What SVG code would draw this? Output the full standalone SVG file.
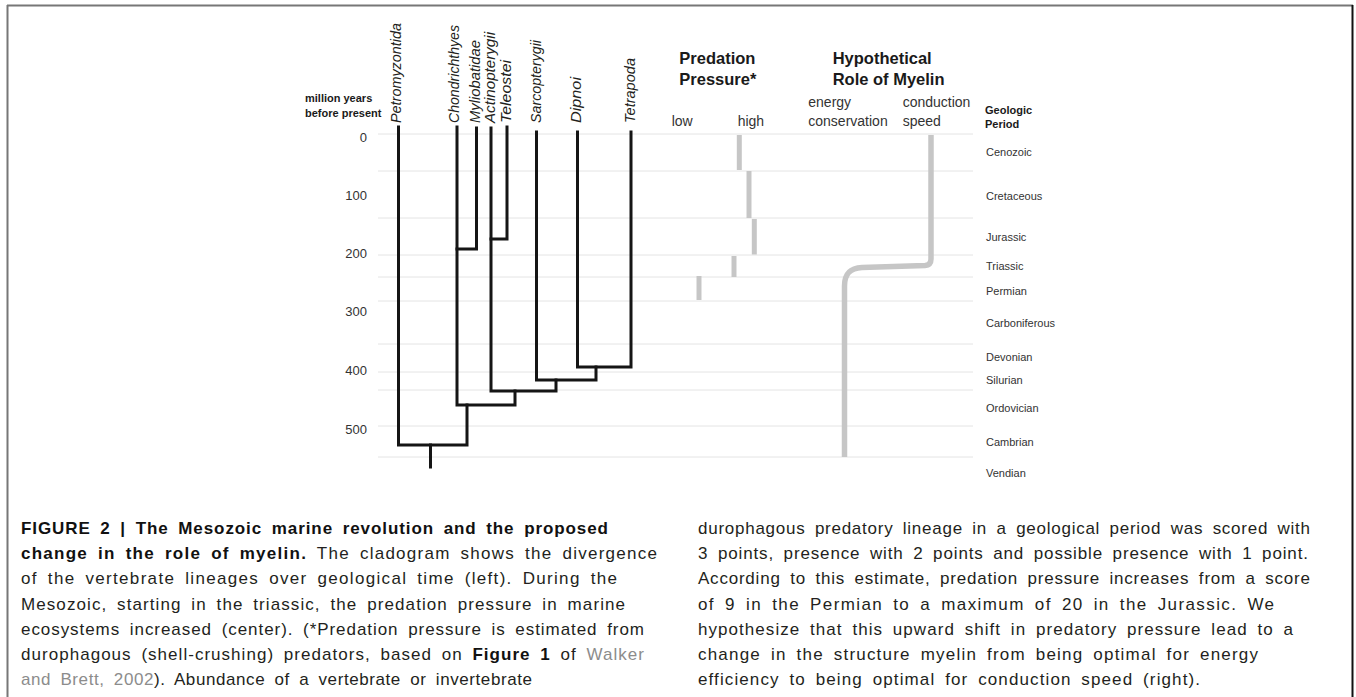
<svg xmlns="http://www.w3.org/2000/svg" width="1356" height="697" viewBox="0 0 1356 697">
<style>
.grid{stroke:#e4e4e4;stroke-width:1;fill:none}
.br{stroke:#151515;stroke-width:3;fill:none;stroke-linejoin:miter;stroke-linecap:square}
.bar{stroke:#c6c6c6;stroke-width:5;fill:none}
.tax{font-family:"Liberation Sans",Arial,sans-serif;font-style:italic;font-size:14px;fill:#231f20}
.num{font-family:"Liberation Sans",Arial,sans-serif;font-size:13px;fill:#333;text-anchor:end}
.per{font-family:"Liberation Sans",Arial,sans-serif;font-size:11px;fill:#333}
.hb{font-family:"Liberation Sans",Arial,sans-serif;font-weight:bold;font-size:16.5px;fill:#1a1a1a}
.sub{font-family:"Liberation Sans",Arial,sans-serif;font-size:14px;fill:#333}
.sb{font-family:"Liberation Sans",Arial,sans-serif;font-weight:bold;font-size:11px;fill:#1a1a1a}
.cap{font-family:"Liberation Sans",Arial,sans-serif;font-size:17px;fill:#231f20;word-spacing:4px}
.b{font-weight:bold;fill:#111}
.lnk{fill:#8c8c8c}
</style>
<rect x="0" y="0" width="1356" height="697" fill="#ffffff"/>
<!-- frame -->
<g id="frame">
<line x1="7" y1="5.5" x2="1353" y2="5.5" stroke="#777" stroke-width="2"/>
<line x1="7.5" y1="5" x2="7.5" y2="697" stroke="#777" stroke-width="2"/>
<line x1="1352.5" y1="5" x2="1352.5" y2="697" stroke="#111" stroke-width="2"/>
</g>
<!-- grid -->
<g id="grid">
<line class="grid" x1="378" y1="134" x2="973" y2="134"/>
<line class="grid" x1="378" y1="171" x2="973" y2="171"/>
<line class="grid" x1="378" y1="218" x2="973" y2="218"/>
<line class="grid" x1="378" y1="255" x2="973" y2="255"/>
<line class="grid" x1="378" y1="277" x2="973" y2="277"/>
<line class="grid" x1="378" y1="301" x2="973" y2="301"/>
<line class="grid" x1="378" y1="344" x2="973" y2="344"/>
<line class="grid" x1="378" y1="372" x2="973" y2="372"/>
<line class="grid" x1="378" y1="390" x2="973" y2="390"/>
<line class="grid" x1="378" y1="426" x2="973" y2="426"/>
<line class="grid" x1="378" y1="457" x2="973" y2="457"/>
</g>
<!-- axis -->
<g id="axis">
<text class="sb" x="305" y="101.5">million years</text>
<text class="sb" x="305" y="116.5">before present</text>
<text class="num" x="367" y="141.5">0</text>
<text class="num" x="367" y="199.5">100</text>
<text class="num" x="367" y="257.5">200</text>
<text class="num" x="367" y="316">300</text>
<text class="num" x="367" y="375">400</text>
<text class="num" x="367" y="433.5">500</text>
</g>
<!-- taxa -->
<g id="taxon-petromyzontida"><text class="tax" transform="translate(401,123) rotate(-90)" textLength="100" lengthAdjust="spacingAndGlyphs">Petromyzontida</text></g>
<g id="taxon-chondrichthyes"><text class="tax" transform="translate(459,123) rotate(-90)" textLength="98" lengthAdjust="spacingAndGlyphs">Chondrichthyes</text></g>
<g id="taxon-myliobatidae"><text class="tax" transform="translate(480,123) rotate(-90)" textLength="83" lengthAdjust="spacingAndGlyphs">Myliobatidae</text></g>
<g id="taxon-actinopterygii"><text class="tax" transform="translate(495,123) rotate(-90)" textLength="91" lengthAdjust="spacingAndGlyphs">Actinopterygii</text></g>
<g id="taxon-teleostei"><text class="tax" transform="translate(511,123) rotate(-90)" textLength="63" lengthAdjust="spacingAndGlyphs">Teleostei</text></g>
<g id="taxon-sarcopterygii"><text class="tax" transform="translate(541,123) rotate(-90)" textLength="83" lengthAdjust="spacingAndGlyphs">Sarcopterygii</text></g>
<g id="taxon-dipnoi"><text class="tax" transform="translate(581,123) rotate(-90)" textLength="46" lengthAdjust="spacingAndGlyphs">Dipnoi</text></g>
<g id="taxon-tetrapoda"><text class="tax" transform="translate(635,123) rotate(-90)" textLength="65" lengthAdjust="spacingAndGlyphs">Tetrapoda</text></g>
<!-- connectors (cladogram branches) -->
<g id="connectors">
<path class="br" d="M398.5 127 V445 H467 V405"/>
<path class="br" d="M430.5 445 V467"/>
<path class="br" d="M457 127 V405 H515 V391"/>
<path class="br" d="M476.5 128 V249 H457"/>
<path class="br" d="M491 128 V391 H556 V380"/>
<path class="br" d="M507 127 V239 H491"/>
<path class="br" d="M536.5 132 V380 H596 V367"/>
<path class="br" d="M577.5 132 V367 H631 V132"/>
</g>
<!-- predation pressure -->
<g id="predation-pressure">
<text class="hb" x="679.3" y="64">Predation</text>
<text class="hb" x="679.3" y="85">Pressure*</text>
<text class="sub" x="671.7" y="126">low</text>
<text class="sub" x="737.7" y="126">high</text>
<line class="bar" x1="739.3" y1="135" x2="739.3" y2="170"/>
<line class="bar" x1="749" y1="171" x2="749" y2="218"/>
<line class="bar" x1="754.3" y1="219" x2="754.3" y2="254.5"/>
<line class="bar" x1="734" y1="256" x2="734" y2="277"/>
<line class="bar" x1="699" y1="276" x2="699" y2="300"/>
</g>
<!-- myelin role -->
<g id="myelin-role">
<text class="hb" x="832.7" y="64">Hypothetical</text>
<text class="hb" x="832.7" y="85">Role of Myelin</text>
<text class="sub" x="808.3" y="107">energy</text>
<text class="sub" x="808.3" y="126">conservation</text>
<text class="sub" x="902.7" y="107">conduction</text>
<text class="sub" x="902.7" y="126">speed</text>
<path d="M931 135 L931 259 Q931 265 925 265.5 L862 267.5 C850 268 844.5 274 844.5 286 L844.5 457" fill="none" stroke="#c6c6c6" stroke-width="5.5"/>
</g>
<!-- geologic periods -->
<g id="geologic-period">
<text class="sb" x="985" y="113.5">Geologic</text>
<text class="sb" x="985" y="127.5">Period</text>
<text class="per" x="986" y="155.5">Cenozoic</text>
<text class="per" x="986" y="200">Cretaceous</text>
<text class="per" x="986" y="241">Jurassic</text>
<text class="per" x="986" y="269.5">Triassic</text>
<text class="per" x="986" y="294.5">Permian</text>
<text class="per" x="986" y="327">Carboniferous</text>
<text class="per" x="986" y="361">Devonian</text>
<text class="per" x="986" y="384">Silurian</text>
<text class="per" x="986" y="412">Ordovician</text>
<text class="per" x="986" y="445.5">Cambrian</text>
<text class="per" x="986" y="477">Vendian</text>
</g>
<!-- caption -->
<g id="caption">
<text class="cap b" x="21" y="534" textLength="587" lengthAdjust="spacing">FIGURE 2 | The Mesozoic marine revolution and the proposed</text>
<text class="cap" x="21" y="559.2" textLength="636" lengthAdjust="spacing"><tspan class="b">change in the role of myelin.</tspan> The cladogram shows the divergence</text>
<text class="cap" x="21" y="584.4" textLength="596" lengthAdjust="spacing">of the vertebrate lineages over geological time (left). During the</text>
<text class="cap" x="21" y="609.6" textLength="604" lengthAdjust="spacing">Mesozoic, starting in the triassic, the predation pressure in marine</text>
<text class="cap" x="21" y="634.8" textLength="623" lengthAdjust="spacing">ecosystems increased (center). (*Predation pressure is estimated from</text>
<text class="cap" x="21" y="660" textLength="623" lengthAdjust="spacing">durophagous (shell-crushing) predators, based on <tspan class="b">Figure 1</tspan> of <tspan class="lnk">Walker</tspan></text>
<text class="cap" x="21" y="685.2" textLength="511" lengthAdjust="spacing"><tspan class="lnk">and Brett, 2002</tspan>). Abundance of a vertebrate or invertebrate</text>
<text class="cap" x="698" y="534" textLength="612" lengthAdjust="spacing">durophagous predatory lineage in a geological period was scored with</text>
<text class="cap" x="698" y="559.2" textLength="610" lengthAdjust="spacing">3 points, presence with 2 points and possible presence with 1 point.</text>
<text class="cap" x="698" y="584.4" textLength="612" lengthAdjust="spacing">According to this estimate, predation pressure increases from a score</text>
<text class="cap" x="698" y="609.6" textLength="576" lengthAdjust="spacing">of 9 in the Permian to a maximum of 20 in the Jurassic. We</text>
<text class="cap" x="698" y="634.8" textLength="595" lengthAdjust="spacing">hypothesize that this upward shift in predatory pressure lead to a</text>
<text class="cap" x="698" y="660" textLength="560" lengthAdjust="spacing">change in the structure myelin from being optimal for energy</text>
<text class="cap" x="698" y="685.2" textLength="502" lengthAdjust="spacing">efficiency to being optimal for conduction speed (right).</text>
</g>
</svg>
